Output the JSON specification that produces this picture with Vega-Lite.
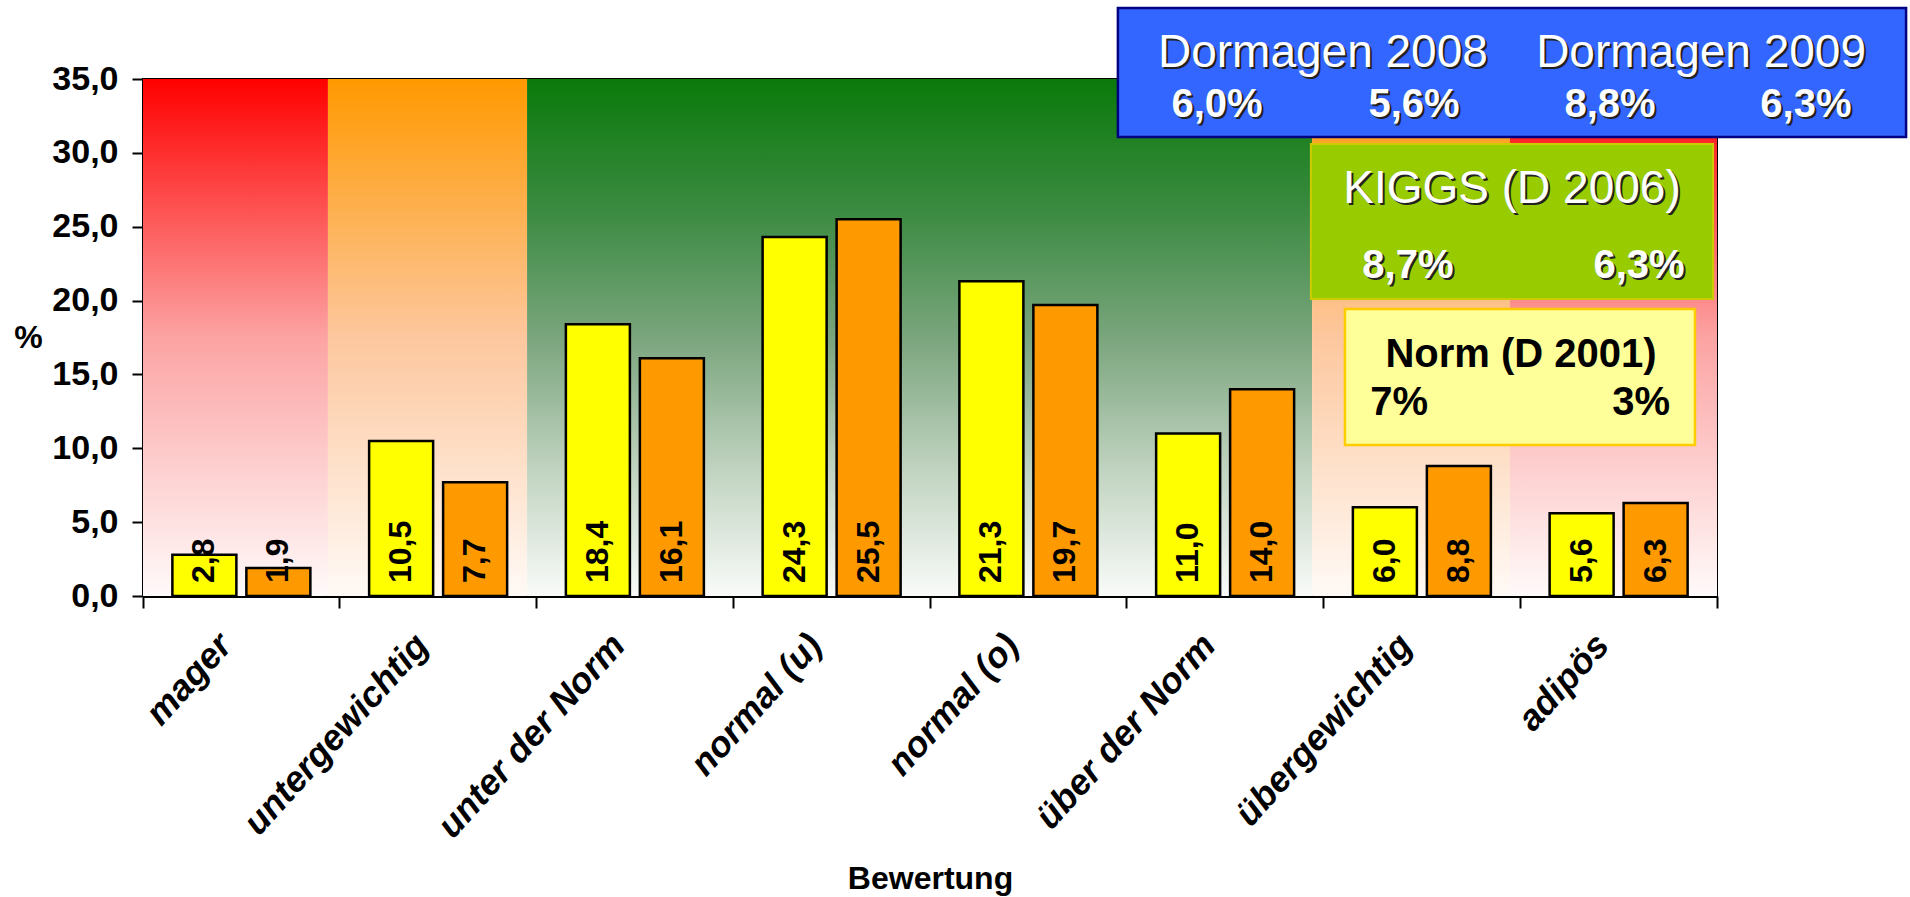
{
  "$schema": "https://vega.github.io/schema/vega-lite/v6.json",
  "width": 1574,
  "height": 517,
  "autosize": {"type": "none"},
  "padding": {"left": 143, "top": 79, "right": 193, "bottom": 301},
  "background": "white",
  "config": {
    "font": "Liberation Sans",
    "numberFormat": ".1f",
    "locale": {"number": {"decimal": ",", "thousands": ".", "grouping": [3], "currency": ["", " €"]}},
    "view": {"stroke": "black", "strokeWidth": 2},
    "axisY": {
      "grid": false,
      "tickCount": 7,
      "labelFont": "Liberation Sans",
      "labelFontSize": 34,
      "labelFontWeight": "bold",
      "labelColor": "black",
      "labelPadding": 14,
      "tickSize": 11,
      "tickWidth": 2,
      "tickColor": "black",
      "domainColor": "black",
      "domainWidth": 3,
      "titleAngle": 0,
      "titleX": -115,
      "titleY": 258,
      "titleAlign": "center",
      "titleBaseline": "middle",
      "titleFont": "Liberation Sans",
      "titleFontSize": 32,
      "titleFontWeight": "bold",
      "titleColor": "black"
    }
  },
  "datasets": {
    "werte": [
      {"Bewertung": "mager", "Jahr": "Dormagen 2008", "Wert": 2.8},
      {"Bewertung": "mager", "Jahr": "Dormagen 2009", "Wert": 1.9},
      {"Bewertung": "untergewichtig", "Jahr": "Dormagen 2008", "Wert": 10.5},
      {"Bewertung": "untergewichtig", "Jahr": "Dormagen 2009", "Wert": 7.7},
      {"Bewertung": "unter der Norm", "Jahr": "Dormagen 2008", "Wert": 18.4},
      {"Bewertung": "unter der Norm", "Jahr": "Dormagen 2009", "Wert": 16.1},
      {"Bewertung": "normal (u)", "Jahr": "Dormagen 2008", "Wert": 24.3},
      {"Bewertung": "normal (u)", "Jahr": "Dormagen 2009", "Wert": 25.5},
      {"Bewertung": "normal (o)", "Jahr": "Dormagen 2008", "Wert": 21.3},
      {"Bewertung": "normal (o)", "Jahr": "Dormagen 2009", "Wert": 19.7},
      {"Bewertung": "über der Norm", "Jahr": "Dormagen 2008", "Wert": 11.0},
      {"Bewertung": "über der Norm", "Jahr": "Dormagen 2009", "Wert": 14.0},
      {"Bewertung": "übergewichtig", "Jahr": "Dormagen 2008", "Wert": 6.0},
      {"Bewertung": "übergewichtig", "Jahr": "Dormagen 2009", "Wert": 8.8},
      {"Bewertung": "adipös", "Jahr": "Dormagen 2008", "Wert": 5.6},
      {"Bewertung": "adipös", "Jahr": "Dormagen 2009", "Wert": 6.3}
    ]
  },
  "resolve": {"scale": {"x": "independent"}},
  "layer": [
    {
      "data": {"values": [{"Zone": "Hintergrund"}]},
      "encoding": {
        "y": {"datum": 35, "type": "quantitative", "scale": {"domain": [0, 35], "nice": false}, "title": "%"},
        "y2": {"datum": 0}
      },
      "layer": [
        {
          "mark": {"type": "rect", "fill": {"gradient": "linear", "x1": 0, "y1": 0, "x2": 0, "y2": 1, "stops": [{"offset": 0, "color": "#FF0000"}, {"offset": 0.5, "color": "#FCA3A3"}, {"offset": 1, "color": "#FFFAFA"}]}},
          "encoding": {
            "x": {"datum": 0, "type": "quantitative", "scale": {"domain": [0, 8], "nice": false, "zero": false}, "axis": null},
            "x2": {"datum": 0.94}
          }
        },
        {
          "mark": {"type": "rect", "fill": {"gradient": "linear", "x1": 0, "y1": 0, "x2": 0, "y2": 1, "stops": [{"offset": 0, "color": "#FF9900"}, {"offset": 0.5, "color": "#FDC79E"}, {"offset": 1, "color": "#FFFAF6"}]}},
          "encoding": {
            "x": {"datum": 0.94, "type": "quantitative", "scale": {"domain": [0, 8], "nice": false, "zero": false}, "axis": null},
            "x2": {"datum": 1.952}
          }
        },
        {
          "mark": {"type": "rect", "fill": {"gradient": "linear", "x1": 0, "y1": 0, "x2": 0, "y2": 1, "stops": [{"offset": 0, "color": "#0A7A0A"}, {"offset": 0.25, "color": "#3A8A40"}, {"offset": 0.5, "color": "#7AA57D"}, {"offset": 0.75, "color": "#BFD2BF"}, {"offset": 1, "color": "#F9FBF9"}]}},
          "encoding": {
            "x": {"datum": 1.952, "type": "quantitative", "scale": {"domain": [0, 8], "nice": false, "zero": false}, "axis": null},
            "x2": {"datum": 5.942}
          }
        },
        {
          "mark": {"type": "rect", "fill": {"gradient": "linear", "x1": 0, "y1": 0, "x2": 0, "y2": 1, "stops": [{"offset": 0, "color": "#FF9900"}, {"offset": 0.5, "color": "#FDC79E"}, {"offset": 1, "color": "#FFFAF6"}]}},
          "encoding": {
            "x": {"datum": 5.942, "type": "quantitative", "scale": {"domain": [0, 8], "nice": false, "zero": false}, "axis": null},
            "x2": {"datum": 6.948}
          }
        },
        {
          "mark": {"type": "rect", "fill": {"gradient": "linear", "x1": 0, "y1": 0, "x2": 0, "y2": 1, "stops": [{"offset": 0, "color": "#FF0000"}, {"offset": 0.5, "color": "#FCA3A3"}, {"offset": 1, "color": "#FFFAFA"}]}},
          "encoding": {
            "x": {"datum": 6.948, "type": "quantitative", "scale": {"domain": [0, 8], "nice": false, "zero": false}, "axis": null},
            "x2": {"datum": 8}
          }
        }
      ]
    },
    {
      "data": {"name": "werte"},
      "encoding": {
        "x": {
          "field": "Bewertung",
          "type": "nominal",
          "sort": ["mager", "untergewichtig", "unter der Norm", "normal (u)", "normal (o)", "über der Norm", "übergewichtig", "adipös"],
          "scale": {"paddingInner": 0, "paddingOuter": 0},
          "axis": {
            "title": "Bewertung",
            "labelAngle": -48,
            "labelAlign": "right",
            "labelBaseline": "middle",
            "labelFont": "Liberation Sans",
            "labelFontSize": 36,
            "labelFontWeight": "bold",
            "labelFontStyle": "italic",
            "labelColor": "black",
            "labelPadding": 31,
            "labelOffset": -16,
            "labelLimit": 500,
            "labelOverlap": false,
            "tickSize": 12,
            "tickWidth": 2,
            "tickColor": "black",
            "domainColor": "black",
            "domainWidth": 3,
            "bandPosition": 1,
            "tickExtra": true,
            "titleFont": "Liberation Sans",
            "titleFontSize": 32,
            "titleFontWeight": "bold",
            "titleColor": "black",
            "titleY": 292,
            "titleBaseline": "alphabetic"
          }
        },
        "xOffset": {"field": "Jahr", "type": "nominal", "sort": ["Dormagen 2008", "Dormagen 2009"], "scale": {"paddingInner": 0.135, "paddingOuter": 0.397}}
      },
      "layer": [
        {
          "mark": {"type": "bar", "stroke": "black", "strokeWidth": 2.5},
          "encoding": {
            "y": {"field": "Wert", "type": "quantitative", "scale": {"domain": [0, 35], "nice": false}, "title": "%"},
            "color": {"field": "Jahr", "type": "nominal", "scale": {"domain": ["Dormagen 2008", "Dormagen 2009"], "range": ["#FFFF00", "#FF9900"]}, "legend": null}
          }
        },
        {
          "mark": {"type": "text", "angle": 270, "align": "left", "baseline": "middle", "fontSize": 32, "fontWeight": "bold", "color": "black", "yOffset": -13},
          "encoding": {
            "y": {"datum": 0, "type": "quantitative", "scale": {"domain": [0, 35], "nice": false}, "title": "%"},
            "text": {"field": "Wert", "type": "quantitative", "format": ".1f"}
          }
        }
      ]
    },
    {
      "layer": [
        {
          "data": {"values": [{"Kasten": "Dormagen"}]},
          "mark": {"type": "rect", "fill": "#3366FF", "stroke": "#000080", "strokeWidth": 2.5, "clip": false},
          "encoding": {
            "x": {"datum": 4.955, "type": "quantitative", "scale": {"domain": [0, 8], "nice": false, "zero": false}, "axis": null},
            "x2": {"datum": 8.961},
            "y": {"datum": 39.81, "type": "quantitative", "scale": {"domain": [0, 35], "nice": false}, "title": "%"},
            "y2": {"datum": 31.07}
          }
        },
        {
          "data": {"values": [{"Kasten": "KIGGS"}]},
          "mark": {"type": "rect", "fill": "#99CC00", "stroke": "#CCCC00", "strokeWidth": 2, "clip": false},
          "encoding": {
            "x": {"datum": 5.936, "type": "quantitative", "scale": {"domain": [0, 8], "nice": false, "zero": false}, "axis": null},
            "x2": {"datum": 7.98},
            "y": {"datum": 30.6, "type": "quantitative", "scale": {"domain": [0, 35], "nice": false}, "title": "%"},
            "y2": {"datum": 20.11}
          }
        },
        {
          "data": {"values": [{"Kasten": "Norm"}]},
          "mark": {"type": "rect", "fill": "#FFFF99", "stroke": "#FFCC00", "strokeWidth": 2.5, "clip": false},
          "encoding": {
            "x": {"datum": 6.109, "type": "quantitative", "scale": {"domain": [0, 8], "nice": false, "zero": false}, "axis": null},
            "x2": {"datum": 7.888},
            "y": {"datum": 19.43, "type": "quantitative", "scale": {"domain": [0, 35], "nice": false}, "title": "%"},
            "y2": {"datum": 10.22}
          }
        },
        {
          "data": {"values": [{"Text": "Dormagen 2008"}]},
          "encoding": {
            "x": {"datum": 5.997, "type": "quantitative", "scale": {"domain": [0, 8], "nice": false, "zero": false}, "axis": null},
            "y": {"datum": 35.81, "type": "quantitative", "scale": {"domain": [0, 35], "nice": false}, "title": "%"},
            "text": {"field": "Text", "type": "nominal"}
          },
          "layer": [
            {"mark": {"type": "text", "fontSize": 46, "align": "center", "baseline": "alphabetic", "color": "#222222", "dx": 2, "dy": 2, "clip": false}},
            {"mark": {"type": "text", "fontSize": 46, "align": "center", "baseline": "alphabetic", "color": "white", "clip": false}}
          ]
        },
        {
          "data": {"values": [{"Text": "Dormagen 2009"}]},
          "encoding": {
            "x": {"datum": 7.919, "type": "quantitative", "scale": {"domain": [0, 8], "nice": false, "zero": false}, "axis": null},
            "y": {"datum": 35.81, "type": "quantitative", "scale": {"domain": [0, 35], "nice": false}, "title": "%"},
            "text": {"field": "Text", "type": "nominal"}
          },
          "layer": [
            {"mark": {"type": "text", "fontSize": 46, "align": "center", "baseline": "alphabetic", "color": "#222222", "dx": 2, "dy": 2, "clip": false}},
            {"mark": {"type": "text", "fontSize": 46, "align": "center", "baseline": "alphabetic", "color": "white", "clip": false}}
          ]
        },
        {
          "data": {"values": [{"Text": "6,0%"}]},
          "encoding": {
            "x": {"datum": 5.459, "type": "quantitative", "scale": {"domain": [0, 8], "nice": false, "zero": false}, "axis": null},
            "y": {"datum": 32.43, "type": "quantitative", "scale": {"domain": [0, 35], "nice": false}, "title": "%"},
            "text": {"field": "Text", "type": "nominal"}
          },
          "layer": [
            {"mark": {"type": "text", "fontSize": 40, "fontWeight": "bold", "align": "center", "baseline": "alphabetic", "color": "#222222", "dx": 2, "dy": 2, "clip": false}},
            {"mark": {"type": "text", "fontSize": 40, "fontWeight": "bold", "align": "center", "baseline": "alphabetic", "color": "white", "clip": false}}
          ]
        },
        {
          "data": {"values": [{"Text": "5,6%"}]},
          "encoding": {
            "x": {"datum": 6.46, "type": "quantitative", "scale": {"domain": [0, 8], "nice": false, "zero": false}, "axis": null},
            "y": {"datum": 32.43, "type": "quantitative", "scale": {"domain": [0, 35], "nice": false}, "title": "%"},
            "text": {"field": "Text", "type": "nominal"}
          },
          "layer": [
            {"mark": {"type": "text", "fontSize": 40, "fontWeight": "bold", "align": "center", "baseline": "alphabetic", "color": "#222222", "dx": 2, "dy": 2, "clip": false}},
            {"mark": {"type": "text", "fontSize": 40, "fontWeight": "bold", "align": "center", "baseline": "alphabetic", "color": "white", "clip": false}}
          ]
        },
        {
          "data": {"values": [{"Text": "8,8%"}]},
          "encoding": {
            "x": {"datum": 7.456, "type": "quantitative", "scale": {"domain": [0, 8], "nice": false, "zero": false}, "axis": null},
            "y": {"datum": 32.43, "type": "quantitative", "scale": {"domain": [0, 35], "nice": false}, "title": "%"},
            "text": {"field": "Text", "type": "nominal"}
          },
          "layer": [
            {"mark": {"type": "text", "fontSize": 40, "fontWeight": "bold", "align": "center", "baseline": "alphabetic", "color": "#222222", "dx": 2, "dy": 2, "clip": false}},
            {"mark": {"type": "text", "fontSize": 40, "fontWeight": "bold", "align": "center", "baseline": "alphabetic", "color": "white", "clip": false}}
          ]
        },
        {
          "data": {"values": [{"Text": "6,3%"}]},
          "encoding": {
            "x": {"datum": 8.452, "type": "quantitative", "scale": {"domain": [0, 8], "nice": false, "zero": false}, "axis": null},
            "y": {"datum": 32.43, "type": "quantitative", "scale": {"domain": [0, 35], "nice": false}, "title": "%"},
            "text": {"field": "Text", "type": "nominal"}
          },
          "layer": [
            {"mark": {"type": "text", "fontSize": 40, "fontWeight": "bold", "align": "center", "baseline": "alphabetic", "color": "#222222", "dx": 2, "dy": 2, "clip": false}},
            {"mark": {"type": "text", "fontSize": 40, "fontWeight": "bold", "align": "center", "baseline": "alphabetic", "color": "white", "clip": false}}
          ]
        },
        {
          "data": {"values": [{"Text": "KIGGS (D 2006)"}]},
          "encoding": {
            "x": {"datum": 6.958, "type": "quantitative", "scale": {"domain": [0, 8], "nice": false, "zero": false}, "axis": null},
            "y": {"datum": 26.61, "type": "quantitative", "scale": {"domain": [0, 35], "nice": false}, "title": "%"},
            "text": {"field": "Text", "type": "nominal"}
          },
          "layer": [
            {"mark": {"type": "text", "fontSize": 46, "align": "center", "baseline": "alphabetic", "color": "#222222", "dx": 2, "dy": 2, "clip": false}},
            {"mark": {"type": "text", "fontSize": 46, "align": "center", "baseline": "alphabetic", "color": "white", "clip": false}}
          ]
        },
        {
          "data": {"values": [{"Text": "8,7%"}]},
          "encoding": {
            "x": {"datum": 6.429, "type": "quantitative", "scale": {"domain": [0, 8], "nice": false, "zero": false}, "axis": null},
            "y": {"datum": 21.53, "type": "quantitative", "scale": {"domain": [0, 35], "nice": false}, "title": "%"},
            "text": {"field": "Text", "type": "nominal"}
          },
          "layer": [
            {"mark": {"type": "text", "fontSize": 40, "fontWeight": "bold", "align": "center", "baseline": "alphabetic", "color": "#222222", "dx": 2, "dy": 2, "clip": false}},
            {"mark": {"type": "text", "fontSize": 40, "fontWeight": "bold", "align": "center", "baseline": "alphabetic", "color": "white", "clip": false}}
          ]
        },
        {
          "data": {"values": [{"Text": "6,3%"}]},
          "encoding": {
            "x": {"datum": 7.604, "type": "quantitative", "scale": {"domain": [0, 8], "nice": false, "zero": false}, "axis": null},
            "y": {"datum": 21.53, "type": "quantitative", "scale": {"domain": [0, 35], "nice": false}, "title": "%"},
            "text": {"field": "Text", "type": "nominal"}
          },
          "layer": [
            {"mark": {"type": "text", "fontSize": 40, "fontWeight": "bold", "align": "center", "baseline": "alphabetic", "color": "#222222", "dx": 2, "dy": 2, "clip": false}},
            {"mark": {"type": "text", "fontSize": 40, "fontWeight": "bold", "align": "center", "baseline": "alphabetic", "color": "white", "clip": false}}
          ]
        },
        {
          "data": {"values": [{"Text": "Norm (D 2001)"}]},
          "mark": {"type": "text", "fontSize": 40, "fontWeight": "bold", "align": "center", "baseline": "alphabetic", "color": "black", "clip": false},
          "encoding": {
            "x": {"datum": 7.004, "type": "quantitative", "scale": {"domain": [0, 8], "nice": false, "zero": false}, "axis": null},
            "y": {"datum": 15.5, "type": "quantitative", "scale": {"domain": [0, 35], "nice": false}, "title": "%"},
            "text": {"field": "Text", "type": "nominal"}
          }
        },
        {
          "data": {"values": [{"Text": "7%"}]},
          "mark": {"type": "text", "fontSize": 40, "fontWeight": "bold", "align": "center", "baseline": "alphabetic", "color": "black", "clip": false},
          "encoding": {
            "x": {"datum": 6.384, "type": "quantitative", "scale": {"domain": [0, 8], "nice": false, "zero": false}, "axis": null},
            "y": {"datum": 12.25, "type": "quantitative", "scale": {"domain": [0, 35], "nice": false}, "title": "%"},
            "text": {"field": "Text", "type": "nominal"}
          }
        },
        {
          "data": {"values": [{"Text": "3%"}]},
          "mark": {"type": "text", "fontSize": 40, "fontWeight": "bold", "align": "center", "baseline": "alphabetic", "color": "black", "clip": false},
          "encoding": {
            "x": {"datum": 7.614, "type": "quantitative", "scale": {"domain": [0, 8], "nice": false, "zero": false}, "axis": null},
            "y": {"datum": 12.25, "type": "quantitative", "scale": {"domain": [0, 35], "nice": false}, "title": "%"},
            "text": {"field": "Text", "type": "nominal"}
          }
        }
      ]
    }
  ]
}
